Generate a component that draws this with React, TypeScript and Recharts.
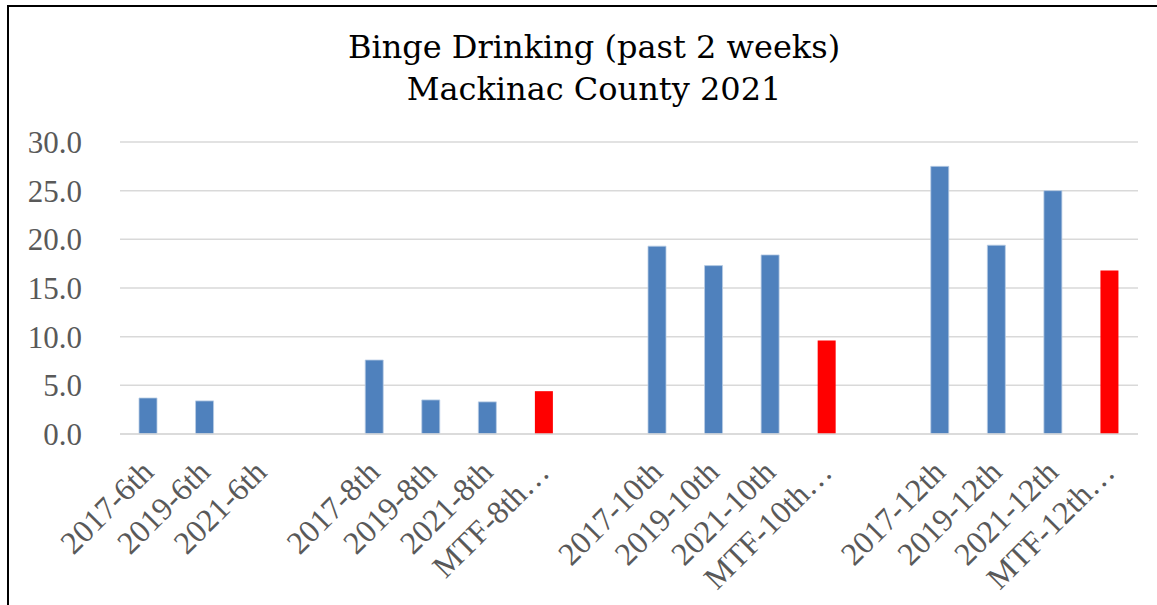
import React from "react";
import { BarChart, Bar, XAxis, YAxis, CartesianGrid } from "recharts";

// grade/year groups, with an empty slot between each grade
const categories = [
  "2017-6th", "2019-6th", "2021-6th", "",
  "2017-8th", "2019-8th", "2021-8th", "MTF-8th…", "",
  "2017-10th", "2019-10th", "2021-10th", "MTF-10th…", "",
  "2017-12th", "2019-12th", "2021-12th", "MTF-12th…",
];

// county survey results (blue)
const countyValues = [
  3.7, 3.4, null, null,
  7.6, 3.5, 3.3, null, null,
  19.3, 17.3, 18.4, null, null,
  27.5, 19.4, 25.0, null,
];

// Monitoring the Future national comparison (red)
const mtfValues = [
  null, null, null, null,
  null, null, null, 4.4, null,
  null, null, null, 9.6, null,
  null, null, null, 16.8,
];

const yTicks = [0, 5, 10, 15, 20, 25, 30];

const data = categories.map((label, i) => ({
  label,
  county: countyValues[i],
  mtf: mtfValues[i],
}));

const TICK_FONT = "'Liberation Serif', 'Times New Roman', serif";
const TICK_COLOR = "#595959";

function XTick(props: any) {
  const { x, y, payload } = props;
  const px = x + 7;
  const py = y + 40;
  return (
    <text
      x={px}
      y={py}
      transform={`rotate(-45, ${px}, ${py})`}
      textAnchor="end"
      fill={TICK_COLOR}
      fontSize={32}
      fontFamily={TICK_FONT}
    >
      {payload.value}
    </text>
  );
}

export default function App() {
  return (
    <div
      style={{
        position: "fixed",
        left: 0,
        top: 0,
        width: 1157,
        height: 605,
        overflow: "hidden",
        background: "#fff",
      }}
    >
      <div
        style={{
          position: "absolute",
          left: 7,
          top: 5,
          width: 1200,
          height: 700,
          borderLeft: "2px solid #000",
          borderTop: "2px solid #000",
        }}
      />
      <div
        style={{
          position: "absolute",
          left: 0,
          top: 26,
          width: 1188,
          textAlign: "center",
          fontFamily: "'DejaVu Serif', serif",
          fontSize: 32,
          lineHeight: "42px",
          color: "#000",
        }}
      >
        Binge Drinking (past 2 weeks)
        <br />
        Mackinac County 2021
      </div>
      <div style={{ position: "absolute", left: 0, top: 0 }}>
        <BarChart
          width={1157}
          height={605}
          data={data}
          margin={{ top: 142, right: 19, bottom: 0, left: 0 }}
        >
          <CartesianGrid vertical={false} stroke="#D9D9D9" strokeWidth={1.5} />
          <XAxis
            dataKey="label"
            interval={0}
            height={171}
            tickLine={false}
            tickSize={0}
            tickMargin={0}
            axisLine={{ stroke: "#D9D9D9", strokeWidth: 1.5 }}
            tick={<XTick />}
          />
          <YAxis
            width={120}
            domain={[0, 30]}
            ticks={yTicks}
            axisLine={false}
            tickLine={false}
            tickSize={0}
            tickMargin={38}
            tickFormatter={(v) => Number(v).toFixed(1)}
            tick={{ fill: TICK_COLOR, fontSize: 31, fontFamily: TICK_FONT }}
          />
          <Bar
            dataKey="county"
            stackId="a"
            fill="#4F81BD"
            stroke="#B9CDE5"
            strokeWidth={0.8}
            barSize={18}
            isAnimationActive={false}
          />
          <Bar
            dataKey="mtf"
            stackId="a"
            fill="#FF0000"
            barSize={18}
            isAnimationActive={false}
          />
        </BarChart>
      </div>
    </div>
  );
}
